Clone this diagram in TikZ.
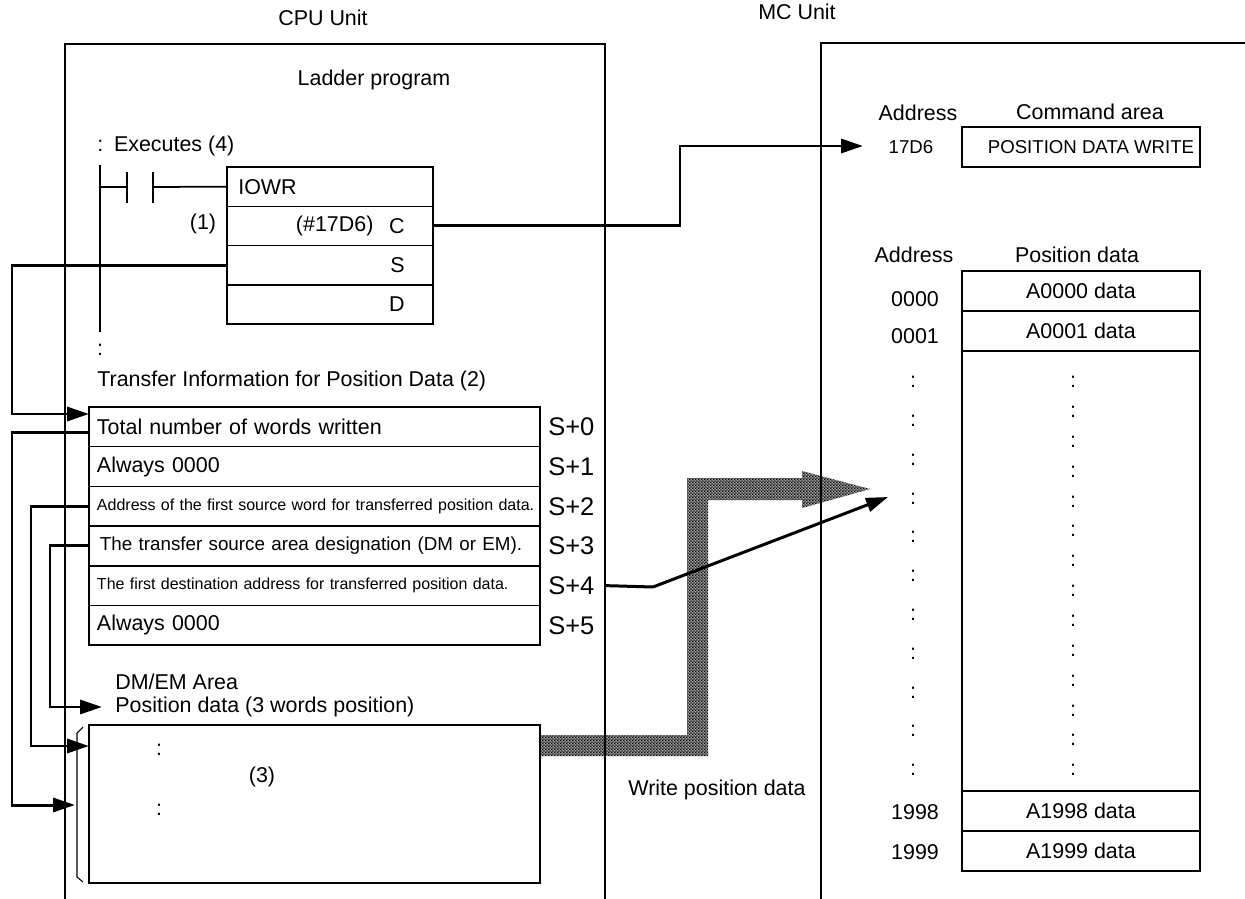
\documentclass[tikz,border=0pt]{standalone}
\usepackage{fontspec}
\setmainfont{Liberation Sans}
\usetikzlibrary{arrows.meta,positioning,patterns.meta}

\tikzdeclarepattern{name=checker,type=uncolored,
  bottom left={(0pt,0pt)},top right={(1.6pt,1.6pt)},tile size={(1.6pt,1.6pt)},
  code={\fill (0pt,0pt) rectangle (0.8pt,0.8pt); \fill (0.8pt,0.8pt) rectangle (1.6pt,1.6pt);}}

\begin{document}
\begin{tikzpicture}[x=0.02cm,y=-0.02cm,font=\fontsize{12.2}{14}\selectfont,
  every node/.style={inner sep=0pt},
  frame/.style={line width=1.6pt},
  wire/.style={line width=1pt},
  conn/.style={line width=1.7pt,-{Triangle[length=12.5pt,width=8pt]}},
  cell/.style={draw,line width=0.9pt,outer sep=0pt},
  iorow/.style={cell,minimum width=4.12cm,minimum height=0.786cm},
  trow/.style={cell,minimum width=9.02cm,minimum height=0.794cm,text width=8.7cm,inner xsep=0.16cm,align=left},
  prow/.style={cell,minimum width=4.76cm,minimum height=0.8cm},
  slab/.style={font=\fontsize{14.5}{16}\selectfont},
  small/.style={font=\fontsize{9.1}{11}\selectfont},
  band/.style={preaction={fill=black!38},pattern={checker},pattern color=black}]
\useasboundingbox (0,0) rectangle (1245,899);

% write position data band
\fill[band] (540,735) -- (687,735) -- (687,478) -- (802,478) -- (802,471) -- (870,489)
  -- (802,508) -- (802,500) -- (708,500) -- (708,756) -- (540,756) -- cycle;
\node (write) at (717,790) {Write position data};

% unit frames
\draw[frame] (65,899) -- (65,44) -- (605,44) -- (605,899);
\draw[frame] (821,899) -- (821,43) -- (1245,43);
\node (cpu) at (323,18) {CPU Unit};
\node (mc) at (797,12) {MC Unit};
\node (ladder) at (374,80) {Ladder program};

% ladder rung
\node[anchor=west] (exec) at (97,146) {:\enspace Executes (4)};
\draw[wire] (100,165) -- (100,332);
\node (rdots) at (100,350) {:};
\draw[wire] (100,187) -- (127,187);
\draw[wire] (127,172) -- (127,203);
\draw[wire] (153,172) -- (153,203);
\node[iorow,anchor=north west] (iowr) at (227,167) {};
\node[iorow,below=0pt of iowr] (iowrc) {};
\node[iorow,below=0pt of iowrc] (iowrs) {};
\node[iorow,below=0pt of iowrs] (iowrd) {};
\draw[wire] (153,187) -- (iowr.west);
\node[anchor=west] (iowrname) at ([xshift=0.22cm]iowr.west) {IOWR};
\node[anchor=east] (cc) at ([xshift=-0.56cm]iowrc.east) {C};
\node[anchor=east] (cval) at ([xshift=-0.3cm]cc.west) {(\#17D6)};
\node[anchor=east] (ss) at ([xshift=-0.56cm]iowrs.east) {S};
\node[anchor=east] (dd) at ([xshift=-0.56cm]iowrd.east) {D};
\node (one) at (203,224) {(1)};

% transfer information table
\node[anchor=west] (tinfo) at (97,381) {Transfer Information for Position Data (2)};
\node[trow,anchor=north west] (row0) at (89,407) {Total number of words written};
\node[trow,below=0pt of row0] (row1) {Always 0000};
\node[trow,below=0pt of row1,small] (row2) {\mbox{Address of the first source word for transferred position data.}};
\node[trow,below=0pt of row2,font=\fontsize{10.7}{12}\selectfont] (row3) {\hspace*{0.06cm}The transfer source area designation (DM or EM).};
\node[trow,below=0pt of row3,small] (row4) {\mbox{The first destination address for transferred position data.}};
\node[trow,below=0pt of row4] (row5) {Always 0000};
\foreach \r in {0,...,5}
  \node[slab,right=0.16cm of row\r] (s\r) {S+\r};

% DM/EM area
\node[anchor=west] (dmem) at (115,682) {DM/EM Area};
\node[anchor=west] (posdata) at (115,707) {Position data (3 words position)};
\node[cell,anchor=north west,minimum width=9.02cm,minimum height=3.16cm] (dm) at (89,725) {};
\draw[line width=0.6pt] (83,727) -- (77,733) -- (77,877) -- (83,882);
\node (dmdots1) at (159,750) {:};
\node (three) at (262,777) {(3)};
\node (dmdots2) at (159,810) {:};

% MC unit command area
\node (cmdaddr) at (918,113) {Address};
\node (cmdtitle) at (1090,112) {Command area};
\node[prow,anchor=north west] (cmd) at (962,127) {};
\node[font=\fontsize{10.6}{12}\selectfont] (cmdtxt) at (1091,147) {POSITION DATA WRITE};
\node[font=\fontsize{10.6}{12}\selectfont] (a17d6) at (911,147) {17D6};

% MC unit position data
\node (posaddr) at (914,255) {Address};
\node (postitle) at (1077,255) {Position data};
\node[prow,anchor=north west] (p0) at (962,271) {A0000 data};
\node[prow,below=0pt of p0] (p1) {A0001 data};
\node[prow,below=0pt of p1,minimum height=8.8cm] (pmid) {};
\node[prow,below=0pt of pmid] (p1998) {A1998 data};
\node[prow,below=0pt of p1998] (p1999) {A1999 data};
\node (ad0) at (915,299) {0000};
\node (ad1) at (915,336) {0001};
\node (ad1998) at (915,812) {1998};
\node (ad1999) at (915,852) {1999};
\foreach \k in {0,...,10}
  \node (lc\k) at (913,{382+38.8*\k}) {:};
\foreach \k in {0,...,13}
  \node (rc\k) at (1073,{382+29.85*\k}) {:};

% connectors
\coordinate (cturn) at (680,146);
\coordinate (cend) at (863,146);
\draw[conn] (iowrc.east) -| (cturn) -- (cend);
\coordinate (sturn) at (12,414);
\draw[conn] (iowrs.west) -| (sturn) -- (row0.west |- sturn);
\coordinate (r0turn) at (12,805);
\coordinate (r0tip) at (75,805);
\draw[conn] ([yshift=-0.11cm]row0.west) -| (r0turn) -- (r0tip);
\coordinate (r2turn) at (31,746);
\draw[conn] (row2.west) -| (r2turn) -- (dm.west |- r2turn);
\coordinate (r3turn) at (50,707);
\draw[conn] (row3.west) -| (r3turn) -- ([xshift=-0.26cm]posdata.west);
\coordinate (s4knee) at (653,587);
\coordinate (s4end) at (888,497);
\draw[line width=1.7pt] ([xshift=0.22cm]s4.east) -- (s4knee);
\draw[conn] (s4knee) -- (s4end);

\end{tikzpicture}
\end{document}
